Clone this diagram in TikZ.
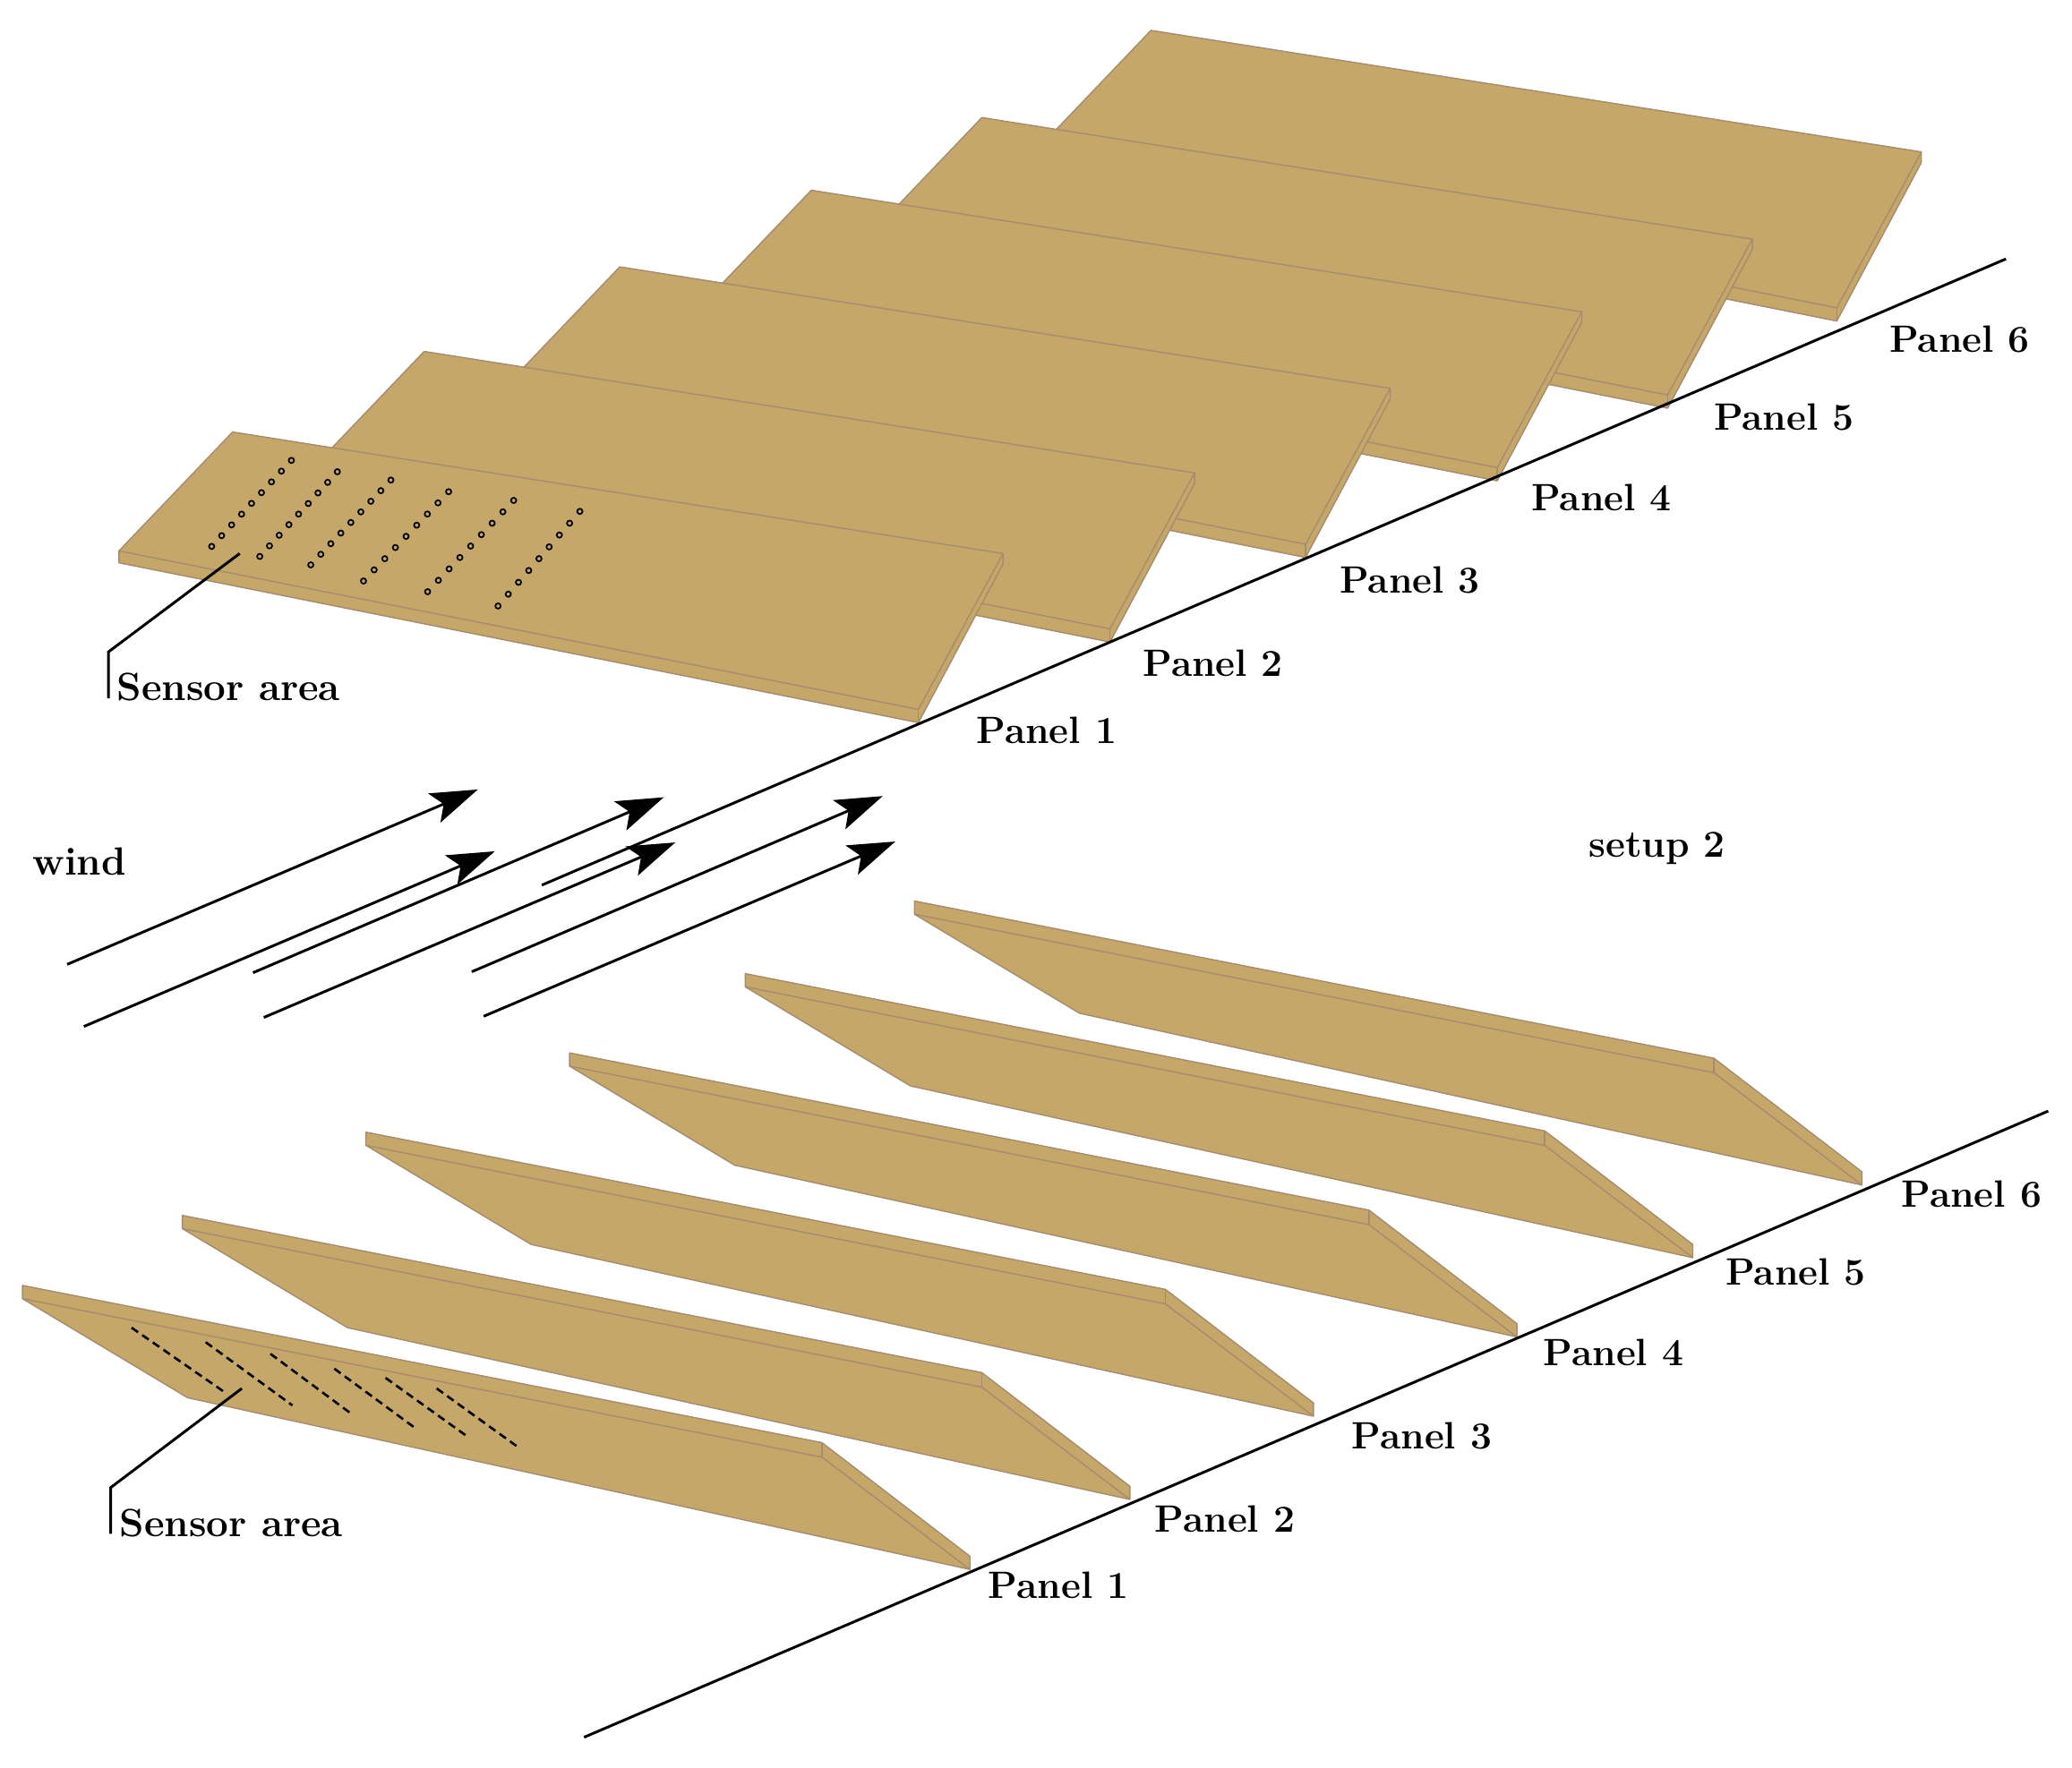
\documentclass[tikz,border=0pt]{standalone}
\usetikzlibrary{arrows.meta,calc}
\definecolor{paneltan}{RGB}{197,167,106}
\definecolor{paneledge}{RGB}{165,140,110}
\tikzset{
  panel/.style={fill=paneltan,draw=paneledge,line width=0.4pt,line join=round},
  ridge/.style={draw=paneledge,line width=0.4pt},
  baseline/.style={black,line width=0.85pt},
  windarrow/.style={black,line width=0.85pt,-{Stealth[length=15pt,width=10pt,inset=3.2pt]}},
  leader/.style={black,line width=0.85pt},
  hole/.style={black,line width=0.5pt},
  tape/.style={black,line width=0.75pt,dash pattern=on 2.5pt off 1.6pt},
  lab/.style={font=\fontsize{12.1}{14}\selectfont\bfseries,text=black,inner sep=0pt},
  biglab/.style={lab,font=\fontsize{12.5}{14}\selectfont\bfseries}
}
\begin{document}
\begin{tikzpicture}[x=0.014758cm,y=-0.014758cm]
\useasboundingbox (0,0) rectangle (1568,1338);
% flat panels
\foreach \px/\py in {871/23,743/89,614/144,469/202,321/266,176/327}{
  \filldraw[panel] (\px,\py) -- (\px+583,\py+92) -- (\px+583,\py+100) -- (\px+519,\py+220)
    -- (\px-86,\py+99) -- (\px-86,\py+90) -- cycle;
  \draw[ridge] (\px-86,\py+90) -- (\px+519,\py+210) -- (\px+583,\py+92);
  \draw[ridge] (\px+519,\py+210) -- (\px+519,\py+220);
}
% tilted panels
\foreach \px/\py in {692/682,564/737,431/797,277/857,138/920,17/973}{
  \filldraw[panel] (\px,\py) -- (\px+605,\py+119) -- (\px+717,\py+205) -- (\px+717,\py+215)
    -- (\px+125,\py+85) -- (\px,\py+10) -- cycle;
  \draw[ridge] (\px,\py+10) -- (\px+605,\py+130) -- (\px+717,\py+215);
  \draw[ridge] (\px+605,\py+119) -- (\px+605,\py+130);
}
% sensors
\foreach \xa/\ya/\xb/\yb in {160.2/413.6/220.5/348.5,196.6/421.2/255.3/357.1,235.2/427.6/295.8/363.4,
    275.1/439.8/339.5/372.2,323.6/447.9/388.7/378.8,376.9/458.7/438.8/387.1}{
  \foreach \n in {0,...,8}
    \draw[hole] ($(\xa,\ya)!\n/8!(\xb,\yb)$) circle (0.85pt);
}
\foreach \xa/\ya/\xb/\yb in {99.6/1005/171.4/1054.8,155.7/1016/221.3/1063.8,204.7/1024.8/267.4/1071.3,
    253/1036/313.3/1080.3,291.8/1043/353.2/1087,330.5/1051/392.2/1095.5}{
  \draw[tape] (\xa,\ya) -- (\xb,\yb);
}
% base lines
\coordinate (topa) at (410,670);
\coordinate (topb) at (1518,196);
\coordinate (bota) at (442,1315);
\coordinate (botb) at (1550,841);
\draw[baseline] (topa) -- (topb);
\draw[baseline] (bota) -- (botb);
% wind
\foreach \n/\xa/\ya/\xb/\yb in {1/50.8/730/361.6/597.6,2/63.5/777/374.4/644.4,3/191.5/736.3/502.3/603.5,
    4/199.6/770.2/511/637.7,5/357/735.6/668/602.6,6/366/769.3/677.5/637}{
  \coordinate (winda\n) at (\xa,\ya);
  \coordinate (windb\n) at (\xb,\yb);
  \draw[windarrow] (winda\n) -- (windb\n);
}
\node[biglab] (wind) at (60,652) {wind};
\node[lab] (setup) at (1254,642) {setup 2};
% labels
\foreach \n/\xa/\ya/\xb/\yb in {1/792/553/801/1200,2/918/502/927/1150,3/1067/439/1076/1087,
    4/1212/377/1221/1024,5/1350/316/1359/963,6/1483/257/1492/904}{
  \node[lab] (flat\n) at (\xa,\ya) {Panel \n};
  \node[lab] (tilt\n) at (\xb,\yb) {Panel \n};
}
\node[biglab] (areaflat) at (173,520) {Sensor area};
\node[biglab] (areatilt) at (175,1153) {Sensor area};
\coordinate (flata) at (181.4,419);
\coordinate (flatb) at (82,493.5);
\coordinate (flatc) at (82,528.6);
\coordinate (tilta) at (183,1051);
\coordinate (tiltb) at (83.8,1126);
\coordinate (tiltc) at (83.8,1161);
\draw[leader] (flata) -- (flatb) -- (flatc);
\draw[leader] (tilta) -- (tiltb) -- (tiltc);
\end{tikzpicture}
\end{document}
